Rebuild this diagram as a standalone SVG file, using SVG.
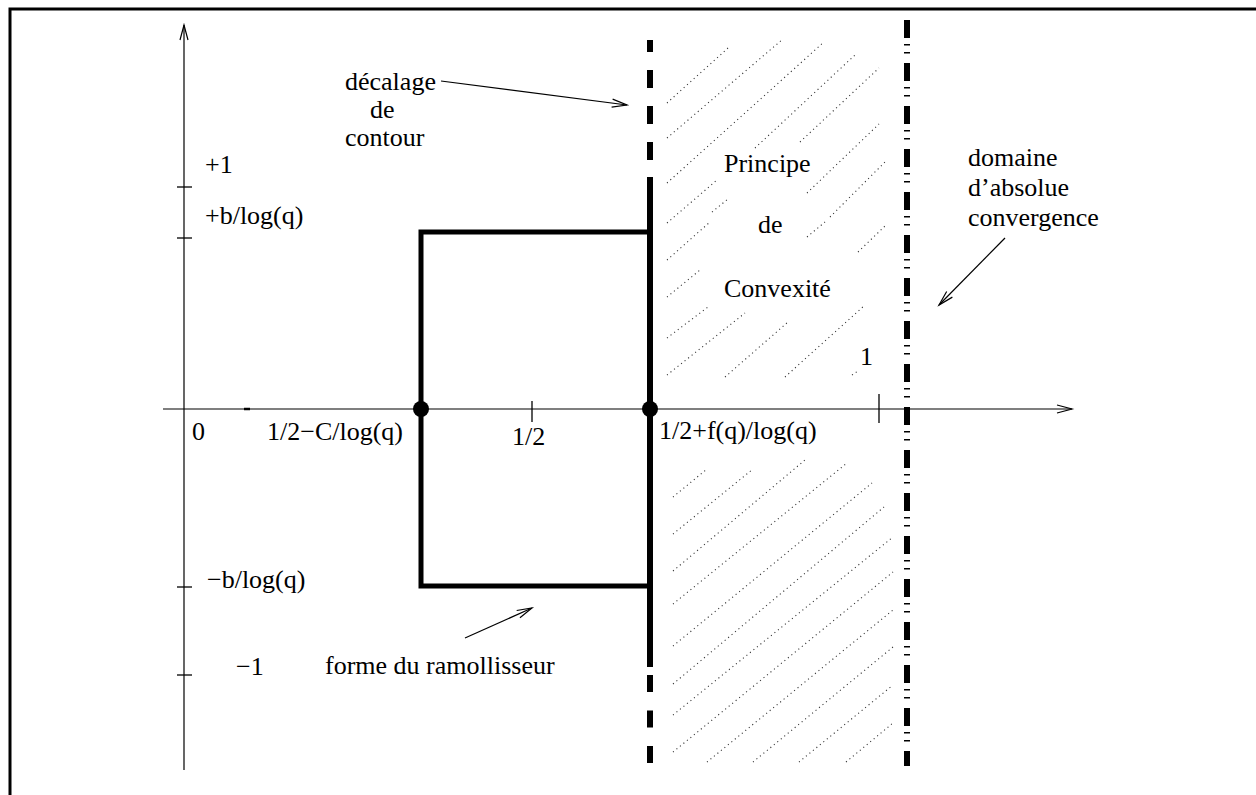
<svg xmlns="http://www.w3.org/2000/svg" width="1256" height="795" viewBox="0 0 1256 795">
<style>
text{font-family:"Liberation Serif","Times New Roman",serif;font-size:26px;fill:#000}
.thin{stroke:#000;stroke-width:1.3;fill:none}
.thick{stroke:#000;stroke-width:5;fill:none}
.arrow{stroke:#000;stroke-width:1.2;fill:none;marker-end:url(#ah)}
.hatch line{stroke:#333;stroke-width:1.1;stroke-dasharray:1.1 3.4;fill:none}
</style>
<defs>
<marker id="ah" markerUnits="userSpaceOnUse" markerWidth="20" markerHeight="12" viewBox="-17 -6 19 12" refX="0" refY="0" orient="auto">
<path d="M-15,-4 L0,0 L-15,4" fill="none" stroke="#000" stroke-width="1.2"/>
</marker>
</defs>
<rect width="1256" height="795" fill="#fff"/>
<g id="frame">
<path d="M10,795 V9 H1256" fill="none" stroke="#000" stroke-width="3"/>
</g>
<g id="hatching" class="hatch">
<line x1="667" y1="103" x2="728" y2="48"/>
<line x1="667" y1="138" x2="783" y2="39"/>
<line x1="667" y1="183" x2="824" y2="42"/>
<line x1="667" y1="223" x2="717" y2="180"/>
<line x1="755" y1="148" x2="855" y2="55"/>
<line x1="800" y1="142" x2="879" y2="68"/>
<line x1="807" y1="193" x2="879" y2="124"/>
<line x1="830" y1="217" x2="887" y2="160"/>
<line x1="712" y1="212" x2="728" y2="199"/>
<line x1="667" y1="260" x2="710" y2="222"/>
<line x1="807" y1="237" x2="825" y2="222"/>
<line x1="858" y1="252" x2="885" y2="226"/>
<line x1="667" y1="297" x2="700" y2="270"/>
<line x1="667" y1="338" x2="708" y2="307"/>
<line x1="667" y1="375" x2="745" y2="313"/>
<line x1="725" y1="377" x2="788" y2="322"/>
<line x1="785" y1="377" x2="865" y2="305"/>
<line x1="852" y1="375" x2="858" y2="371"/>
<line x1="673" y1="497" x2="707" y2="469"/>
<line x1="673" y1="534" x2="753" y2="469"/>
<line x1="673" y1="571" x2="805" y2="460"/>
<line x1="673" y1="604" x2="847" y2="463"/>
<line x1="673" y1="646" x2="872" y2="483"/>
<line x1="673" y1="684" x2="884" y2="507"/>
<line x1="673" y1="715" x2="893" y2="537"/>
<line x1="673" y1="752" x2="893" y2="572"/>
<line x1="707" y1="762" x2="893" y2="610"/>
<line x1="753" y1="762" x2="893" y2="647"/>
<line x1="799" y1="762" x2="893" y2="685"/>
<line x1="846" y1="762" x2="893" y2="723"/>
</g>
<g id="axes">
<line x1="163" y1="409" x2="680" y2="409" stroke="#555" stroke-width="1.6"/>
<line x1="680" y1="409" x2="1072" y2="409" class="arrow" stroke-width="1.6"/>
<line x1="244" y1="409" x2="250" y2="409" stroke="#000" stroke-width="2.5"/>
<line x1="184" y1="770" x2="184" y2="25" class="arrow"/>
<g id="yticks" class="thin">
<line x1="177" y1="187" x2="192" y2="187"/>
<line x1="177" y1="238" x2="192" y2="238"/>
<line x1="177" y1="587" x2="192" y2="587"/>
<line x1="177" y1="675" x2="192" y2="675"/>
</g>
<g id="xticks" class="thin">
<line x1="532" y1="401" x2="532" y2="422"/>
<line x1="879" y1="394" x2="879" y2="423"/>
</g>
</g>
<g id="contour">
<path class="thick" d="M650,232 H421 V586 H650"/>
<line x1="650" y1="177" x2="650" y2="667" stroke="#000" stroke-width="6"/>
<line x1="650" y1="160" x2="650" y2="40" stroke="#000" stroke-width="6" stroke-dasharray="18 18"/>
<line x1="650" y1="675" x2="650" y2="763" stroke="#000" stroke-width="6" stroke-dasharray="17 18.5"/>
<circle cx="421" cy="409" r="8" fill="#000"/>
<circle cx="650" cy="409" r="8" fill="#000"/>
</g>
<g id="abs-line">
<line x1="907" y1="20" x2="907" y2="766" stroke="#000" stroke-width="6" stroke-dasharray="18 6 1.5 6.5 1.5 9.5"/>
</g>
<g id="connectors">
<line x1="441" y1="81" x2="627" y2="105" class="arrow"/>
<line x1="1005" y1="238" x2="939" y2="305" class="arrow"/>
<line x1="465" y1="638" x2="532" y2="608" class="arrow"/>
</g>
<g id="label-decalage">
<text x="345" y="90">décalage</text>
<text x="370" y="118">de</text>
<text x="345" y="146">contour</text>
</g>
<g id="label-axis-y">
<text x="205" y="173">+1</text>
<text x="205" y="224">+b/log(q)</text>
<text x="207" y="588">−b/log(q)</text>
<text x="236" y="675">−1</text>
</g>
<g id="label-axis-x">
<text x="192" y="440">0</text>
<text x="267" y="440">1/2−C/log(q)</text>
<text x="512" y="445">1/2</text>
<text x="659" y="439">1/2+f(q)/log(q)</text>
</g>
<g id="label-convexite">
<text x="724" y="172">Principe</text>
<text x="758" y="233">de</text>
<text x="724" y="297">Convexité</text>
<text x="860" y="365">1</text>
</g>
<g id="label-domaine">
<text x="968" y="166">domaine</text>
<text x="968" y="196">d’absolue</text>
<text x="968" y="226">convergence</text>
</g>
<g id="label-forme">
<text x="325" y="674">forme du ramollisseur</text>
</g>
</svg>
